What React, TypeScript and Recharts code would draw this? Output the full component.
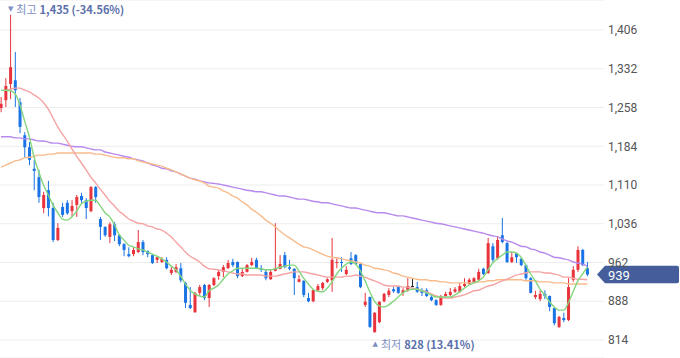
import React from "react";
import { Bar, CartesianGrid, ComposedChart, Line, ReferenceDot, XAxis, YAxis } from "recharts";

// daily candles, oldest first
const opens = [
  1257, 1272, 1303, 1310, 1268, 1205, 1182, 1141, 1125, 1066,
  1100, 1066, 1005, 1068, 1076, 1060, 1072, 1089, 1081, 1060,
  1106, 1045, 1030, 1011, 1035, 1014, 997, 978, 978, 982,
  1001, 984, 976, 967, 963, 967, 942, 944, 951, 923,
  881, 867, 904, 919, 894, 919, 936, 944, 951, 963,
  963, 936, 944, 957, 967, 951, 944, 930, 946, 950,
  976, 953, 950, 925, 927, 894, 888, 909, 913, 925,
  928, 961, 963, 940, 970, 976, 959, 881, 896, 829,
  848, 888, 900, 911, 915, 904, 909, 917, 915, 909,
  909, 896, 890, 881, 898, 900, 906, 906, 917, 921,
  925, 929, 950, 942, 993, 970, 1014, 999, 963, 980,
  969, 957, 932, 896, 892, 902, 898, 875, 839, 856,
  852, 929, 948, 986, 951,
];
const highs = [
  1278, 1314, 1435, 1364, 1276, 1211, 1192, 1158, 1139, 1097,
  1118, 1076, 1037, 1076, 1081, 1081, 1091, 1095, 1085, 1108,
  1108, 1049, 1031, 1039, 1039, 1016, 999, 991, 991, 1024,
  1005, 985, 977, 973, 972, 972, 953, 959, 961, 925,
  915, 906, 919, 921, 921, 934, 948, 957, 967, 969,
  964, 951, 959, 971, 971, 957, 948, 948, 1037, 976,
  982, 967, 951, 938, 928, 904, 911, 921, 925, 932,
  1009, 970, 972, 955, 982, 978, 960, 904, 897, 867,
  888, 904, 913, 915, 917, 913, 932, 932, 925, 913,
  913, 900, 892, 900, 906, 913, 915, 923, 932, 932,
  934, 950, 952, 1009, 999, 1012, 1047, 1001, 982, 981,
  971, 958, 934, 908, 909, 909, 899, 877, 860, 866,
  932, 955, 993, 988, 963,
];
const lows = [
  1249, 1259, 1274, 1259, 1209, 1163, 1148, 1100, 1076, 1056,
  1050, 1001, 1003, 1049, 1053, 1049, 1049, 1076, 1045, 1058,
  1076, 1005, 1011, 999, 1003, 993, 974, 972, 974, 980,
  976, 972, 959, 961, 961, 949, 938, 942, 924, 875,
  873, 866, 900, 890, 877, 917, 929, 934, 950, 953,
  932, 934, 943, 955, 950, 944, 928, 929, 945, 949,
  951, 947, 900, 924, 896, 886, 886, 907, 909, 923,
  906, 951, 944, 938, 957, 957, 913, 877, 837, 828,
  846, 886, 896, 904, 902, 898, 906, 915, 904, 898,
  896, 888, 879, 879, 896, 898, 904, 904, 915, 919,
  923, 927, 938, 940, 963, 967, 999, 961, 961, 961,
  955, 929, 903, 892, 888, 892, 869, 842, 837, 848,
  850, 925, 944, 955, 936,
];
const closes = [
  1265, 1299, 1335, 1291, 1221, 1182, 1158, 1137, 1087, 1091,
  1066, 1005, 1028, 1053, 1056, 1070, 1087, 1081, 1066, 1106,
  1087, 1030, 1014, 1035, 1014, 997, 986, 974, 986, 1001,
  982, 978, 961, 972, 969, 951, 948, 953, 928, 885,
  875, 904, 915, 894, 919, 932, 944, 953, 961, 957,
  936, 944, 957, 963, 951, 948, 932, 944, 951, 959,
  953, 950, 932, 930, 900, 888, 909, 917, 923, 930,
  967, 963, 961, 948, 959, 959, 915, 887, 839, 866,
  887, 902, 908, 907, 904, 909, 917, 917, 906, 904,
  898, 890, 881, 898, 902, 906, 911, 917, 921, 929,
  932, 944, 940, 999, 967, 1005, 1001, 963, 972, 972,
  957, 932, 904, 900, 902, 898, 877, 846, 858, 852,
  915, 948, 986, 957, 939,
];

// moving averages as drawn
const ma5 = [
  1291, 1291, 1290, 1284, 1263, 1232, 1202, 1163, 1135, 1110,
  1091, 1072, 1057, 1045, 1043, 1049, 1060, 1074, 1079, 1081,
  1081, 1070, 1057, 1049, 1034, 1015, 1005, 995, 992, 988,
  986, 982, 978, 974, 969, 963, 955, 948, 936, 921,
  909, 902, 898, 896, 908, 913, 919, 930, 940, 946,
  951, 951, 951, 951, 951, 950, 948, 948, 950, 953,
  955, 957, 957, 946, 932, 921, 911, 907, 906, 913,
  925, 940, 951, 959, 963, 959, 946, 927, 906, 888,
  879, 877, 881, 888, 896, 904, 909, 911, 911, 908,
  904, 900, 896, 896, 896, 896, 900, 906, 913, 919,
  923, 927, 934, 948, 961, 969, 976, 982, 982, 980,
  972, 957, 940, 927, 911, 900, 887, 877, 871, 871,
  885, 906, 927, 940, 953,
];
const ma20 = [
  null, 1291, 1293, 1295, 1295, 1291, 1288, 1282, 1276, 1267,
  1255, 1238, 1221, 1207, 1194, 1179, 1165, 1152, 1139, 1125,
  1114, 1102, 1091, 1079, 1070, 1060, 1053, 1045, 1041, 1037,
  1036, 1032, 1030, 1026, 1024, 1018, 1011, 1001, 992, 982,
  974, 969, 963, 955, 950, 949, 948, 946, 944, 942,
  940, 940, 938, 938, 938, 938, 936, 936, 936, 938,
  940, 942, 944, 944, 944, 942, 940, 938, 936, 934,
  934, 934, 934, 936, 936, 938, 936, 934, 930, 927,
  923, 919, 917, 917, 917, 915, 915, 913, 911, 908,
  906, 902, 898, 896, 894, 894, 896, 898, 900, 904,
  908, 909, 913, 917, 919, 923, 927, 930, 934, 938,
  940, 942, 944, 944, 944, 942, 942, 940, 938, 934,
  934, 932, 930, 930, 929,
];
const ma60 = [
  1144, 1148, 1152, 1156, 1158, 1162, 1163, 1165, 1167, 1167,
  1169, 1169, 1171, 1171, 1171, 1171, 1171, 1171, 1171, 1171,
  1169, 1169, 1167, 1165, 1163, 1162, 1162, 1160, 1160, 1156,
  1154, 1152, 1150, 1148, 1146, 1142, 1139, 1135, 1131, 1127,
  1123, 1120, 1118, 1114, 1108, 1106, 1104, 1099, 1095, 1089,
  1085, 1078, 1072, 1064, 1058, 1051, 1043, 1037, 1030, 1022,
  1015, 1009, 1003, 997, 992, 990, 986, 982, 978, 974,
  972, 971, 969, 967, 965, 963, 961, 957, 955, 951,
  950, 948, 946, 942, 940, 936, 934, 932, 930, 929,
  929, 927, 927, 925, 925, 923, 923, 923, 923, 923,
  923, 925, 925, 927, 927, 929, 929, 929, 929, 929,
  929, 927, 927, 927, 925, 925, 925, 923, 923, 923,
  921, 921, 921, 921, 921,
];
const ma120 = [
  1202, 1202, 1202, 1200, 1200, 1198, 1198, 1196, 1194, 1194,
  1192, 1190, 1190, 1188, 1186, 1184, 1183, 1183, 1181, 1179,
  1177, 1177, 1173, 1171, 1169, 1167, 1165, 1163, 1160, 1158,
  1156, 1152, 1148, 1146, 1142, 1141, 1137, 1135, 1131, 1127,
  1123, 1121, 1118, 1116, 1114, 1113, 1112, 1110, 1108, 1106,
  1104, 1102, 1100, 1099, 1097, 1097, 1095, 1093, 1091, 1089,
  1089, 1087, 1085, 1083, 1083, 1081, 1079, 1078, 1076, 1076,
  1074, 1072, 1070, 1068, 1066, 1066, 1064, 1062, 1060, 1058,
  1057, 1057, 1055, 1053, 1051, 1051, 1049, 1047, 1045, 1043,
  1041, 1039, 1037, 1036, 1034, 1032, 1030, 1028, 1026, 1024,
  1022, 1020, 1018, 1015, 1013, 1011, 1007, 1003, 1001, 997,
  993, 992, 988, 986, 982, 980, 976, 972, 971, 969,
  967, 963, 961, 959, 955,
];

const yTicks = [814, 888, 962, 1036, 1110, 1184, 1258, 1332, 1406];

const W = 680;
const H = 358;
const AXIS_W = 76;
const PLOT_RIGHT = W - AXIS_W;
const X_DOMAIN: [number, number] = [0.79, 128.53];
const Y_DOMAIN: [number, number] = [779.6, 1463.3];

const UP = "#e8333c";
const DOWN = "#1a74e5";
const FLAT = "#222";
const LABEL_LIGHT = "#7c8ec2";
const LABEL_DARK = "#5b6fab";
const TAG = "#455e9b";
const KR_FONT = "'Noto Sans CJK KR', 'Noto Sans', sans-serif";

const rows = closes.map((close, i) => ({
  idx: i + 1,
  open: opens[i],
  high: highs[i],
  low: lows[i],
  close,
  range: [lows[i], highs[i]],
  ma5: ma5[i],
  ma20: ma20[i],
  ma60: ma60[i],
  ma120: ma120[i],
}));

const fmt = (v: number) => v.toLocaleString("en-US");

let hiI = 0;
let loI = 0;
highs.forEach((v, i) => { if (v > highs[hiI]) hiI = i; });
lows.forEach((v, i) => { if (v < lows[loI]) loI = i; });
const last = closes[closes.length - 1];
const hiPct = (((last - highs[hiI]) / highs[hiI]) * 100).toFixed(2);
const loPct = (((last - lows[loI]) / lows[loI]) * 100).toFixed(2);

function Candle(props: any) {
  const { x, y, width, height, payload } = props;
  if (x == null || y == null || !payload) return null;
  const { open, close, high, low } = payload;
  const top = Math.min(y, y + height);
  const h = Math.abs(height);
  const k = high === low ? 0 : h / (high - low);
  const yo = top + (high - open) * k;
  const yc = top + (high - close) * k;
  const color = close > open ? UP : close < open ? DOWN : FLAT;
  const cx = x + width / 2;
  return (
    <g>
      <line x1={cx} x2={cx} y1={top} y2={top + h} stroke={color} strokeWidth={1} />
      <rect x={cx - 1.5} y={Math.min(yo, yc)} width={3} height={Math.max(1, Math.abs(yo - yc))} fill={color} />
    </g>
  );
}

function center(vb: any) {
  return { cx: vb.x + (vb.width || 0) / 2, cy: vb.y + (vb.height || 0) / 2 };
}

function HighLabel(props: any) {
  if (!props.viewBox) return null;
  const { cx, cy } = center(props.viewBox);
  return (
    <text x={cx - 2.5} y={cy - 5.5} dominantBaseline="central" fontFamily={KR_FONT} fontSize={11}>
      <tspan fill={LABEL_LIGHT} fontSize={7} fontFamily="'DejaVu Sans'">▼</tspan>
      <tspan fill={LABEL_LIGHT} dx={3}>최고</tspan>
      <tspan fill={LABEL_DARK} fontWeight="bold" dx={3}>{`${fmt(highs[hiI])} (${hiPct}%)`}</tspan>
    </text>
  );
}

function LowLabel(props: any) {
  if (!props.viewBox) return null;
  const { cx, cy } = center(props.viewBox);
  return (
    <text x={cx - 2} y={cy + 11.5} dominantBaseline="central" fontFamily={KR_FONT} fontSize={11}>
      <tspan fill={LABEL_LIGHT} fontSize={7} fontFamily="'DejaVu Sans'">▲</tspan>
      <tspan fill={LABEL_LIGHT} dx={3}>최저</tspan>
      <tspan fill={LABEL_DARK} fontWeight="bold" dx={3}>{`${fmt(lows[loI])} (${loPct}%)`}</tspan>
    </text>
  );
}

function PriceTag(props: any) {
  if (!props.viewBox) return null;
  const { cy } = center(props.viewBox);
  const tip = PLOT_RIGHT - 7;
  const r = W - 1;
  const d = `M${tip},${cy} L${tip + 8},${cy - 8.8} L${r - 2},${cy - 8.8} Q${r},${cy - 8.8} ${r},${cy - 6.8} L${r},${cy + 6.8} Q${r},${cy + 8.8} ${r - 2},${cy + 8.8} L${tip + 8},${cy + 8.8} Z`;
  return (
    <g>
      <path d={d} fill={TAG} />
      <text x={PLOT_RIGHT + 4} y={cy + 0.5} dominantBaseline="central" fill="#fff" fontSize={13} fontFamily="Roboto, sans-serif">
        {fmt(last)}
      </text>
    </g>
  );
}

const lineProps = { type: "monotone" as const, strokeWidth: 1.4, dot: false, activeDot: false, isAnimationActive: false };

export default function App() {
  return (
    <div style={{ position: "absolute", left: 0, top: 0, width: W, height: H, background: "#fff" }}>
      <ComposedChart width={W} height={H} data={rows} margin={{ top: 0, right: 0, bottom: 0, left: 0 }}>
        <CartesianGrid vertical={false} stroke="#ededed" />
        <XAxis dataKey="idx" type="number" domain={X_DOMAIN} hide />
        <YAxis
          orientation="right"
          domain={Y_DOMAIN}
          ticks={yTicks}
          tickFormatter={fmt}
          axisLine={false}
          tickLine={false}
          tickSize={0}
          tickMargin={4}
          width={AXIS_W}
          tick={{ fill: "#555", fontSize: 12, fontFamily: "Roboto, sans-serif" }}
        />
        <Bar dataKey="range" barSize={3} shape={Candle} isAnimationActive={false} />
        <Line dataKey="ma120" stroke="#b88aee" {...lineProps} />
        <Line dataKey="ma60" stroke="#f8bb8c" {...lineProps} />
        <Line dataKey="ma20" stroke="#f6a3a3" {...lineProps} />
        <Line dataKey="ma5" stroke="#84d67f" {...lineProps} />
        <ReferenceDot x={hiI + 1} y={highs[hiI]} r={1} fill="none" stroke="none" label={HighLabel} />
        <ReferenceDot x={loI + 1} y={lows[loI]} r={1} fill="none" stroke="none" label={LowLabel} />
        <ReferenceDot x={closes.length} y={last} r={1} fill="none" stroke="none" label={PriceTag} />
      </ComposedChart>
    </div>
  );
}
